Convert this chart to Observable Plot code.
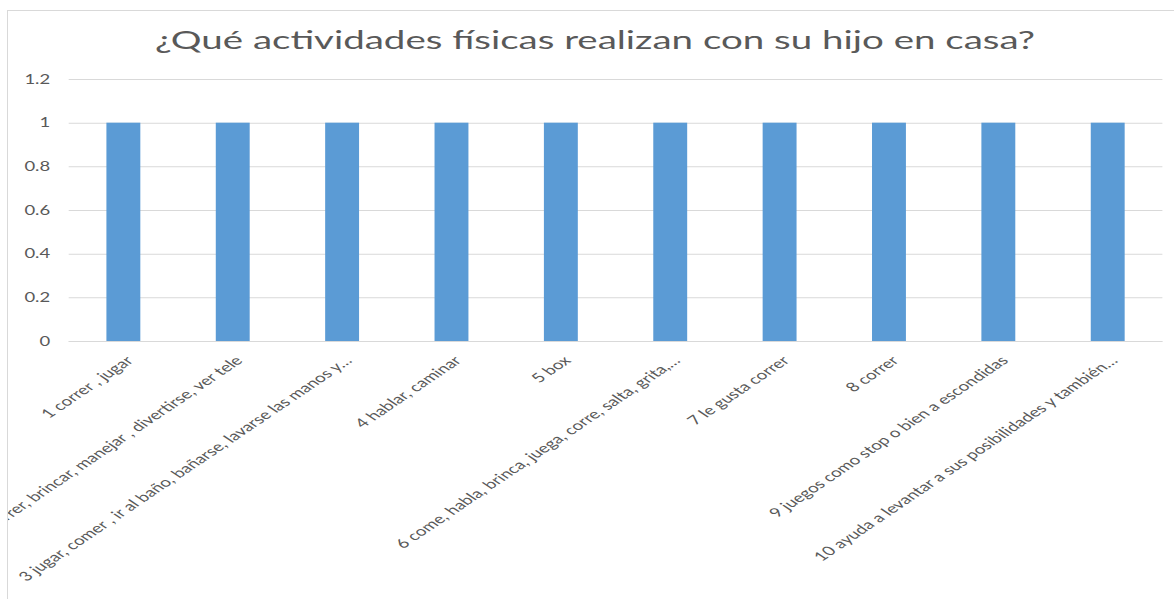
<!DOCTYPE html>
<html><head><meta charset="utf-8">
<script src="https://cdn.jsdelivr.net/npm/d3@7"></script>
<script src="https://cdn.jsdelivr.net/npm/@observablehq/plot@0.6"></script>
<style>
html,body{margin:0;padding:0;background:#fff;}
#page{position:relative;width:1174px;height:599px;overflow:hidden;background:#fff;font-family:Lato,sans-serif;}
#frame{position:absolute;left:7px;top:10px;width:1300px;height:700px;border-left:1px solid #d9d9d9;border-top:1px solid #d9d9d9;}
#title{position:absolute;left:0;width:1190px;top:24px;text-align:center;color:#595959;font-size:25px;line-height:30px;white-space:nowrap;}
#title span{display:inline-block;transform-origin:50% 50%;}
#chart{position:absolute;left:8px;top:11px;width:1166px;height:588px;overflow:hidden;}
#chart svg{display:block;transform-origin:0 0;overflow:visible;}
</style></head>
<body>
<div id="page">
  <div id="frame"></div>
  <div id="title"><span>¿Qué actividades físicas realizan con su hijo en casa?</span></div>
  <div id="chart"></div>
</div>
<script>
const categories = [
  "1 correr , jugar",
  "2 correr, brincar, manejar , divertirse, ver tele",
  "3 jugar, comer , ir al baño, bañarse, lavarse las manos y…",
  "4 hablar, caminar",
  "5 box",
  "6 come, habla, brinca, juega, corre, salta, grita,…",
  "7 le gusta correr",
  "8 correr",
  "9 juegos como stop o bien a escondidas",
  "10 ayuda a levantar a sus posibilidades y también…"
];
const values = [1, 1, 1, 1, 1, 1, 1, 1, 1, 1];
const yTicks = [0, 0.2, 0.4, 0.6, 0.8, 1, 1.2];
const yTickLabels = ["0", "0.2", "0.4", "0.6", "0.8", "1", "1.2"];

const S = 1.48; // horizontal stretch of the reference image
const data = categories.map((c, i) => ({c, v: values[i]}));

const plot = Plot.plot({
  width: 788, height: 588,
  marginLeft: 41, marginRight: 8, marginTop: 68, marginBottom: 258,
  style: {fontFamily: "Lato, sans-serif", fontSize: "12px", color: "#595959", background: "transparent", overflow: "visible"},
  x: {domain: categories, paddingInner: 0.69, paddingOuter: 0.345, round: false, label: null},
  y: {domain: [0, 1.2], ticks: yTicks, label: null},
  marks: [
    Plot.gridY(yTicks, {stroke: "#d9d9d9", strokeOpacity: 1}),
    Plot.barY(data, {x: "c", y: "v", fill: "#5b9bd5"}),
    Plot.ruleY([0], {stroke: "#d9d9d9"}),
    Plot.axisY(yTicks, {tickSize: 0, tickPadding: 13, fontSize: 12.5, tickFormat: (d) => yTickLabels[yTicks.indexOf(d)], fill: "#595959"}),
    Plot.axisX({tickSize: 0, tickRotate: -45, tickPadding: 6, dx: 4, dy: 11, fontSize: 12.8, fill: "#595959", textOverflow: null})
  ]
});
plot.style.transform = `scaleX(${S})`;
document.getElementById("chart").appendChild(plot);

const span = document.querySelector("#title span");
const w = span.getBoundingClientRect().width;
span.style.transform = `scaleX(${880 / w})`;
</script>
</body></html>
